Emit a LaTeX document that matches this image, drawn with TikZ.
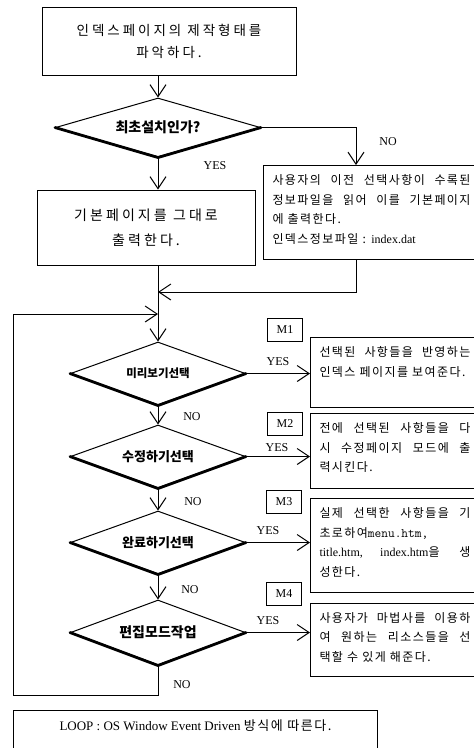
\documentclass[tikz,border=0pt]{standalone}
\usepackage{fontspec}
\setmainfont{Liberation Serif}
\newfontfamily\kr[LetterSpace=12]{Noto Sans CJK KR}
\newfontfamily\krwide[LetterSpace=22]{Noto Sans CJK KR}
\newfontfamily\krbig{Noto Sans CJK KR}
\usetikzlibrary{arrows.meta,shapes.geometric}

\begin{document}
\begin{tikzpicture}[x=1pt, y=-1pt, line width=1pt,
    >={Straight Barb[length=12pt,width=16pt]},
    box/.style={draw, rectangle, inner sep=0pt, align=center,
      font=\krwide\fontsize{13.5}{22}\selectfont},
    memo/.style={draw, rectangle, anchor=north west, inner xsep=9pt, inner ysep=9pt,
      font=\kr\fontsize{12}{19.5}\selectfont},
    decision/.style={draw, diamond, shape aspect=2.8, inner sep=0pt,
      minimum width=175pt, minimum height=63pt,
      font=\krbig\bfseries\fontsize{13}{13}\selectfont},
    heavy/.style={line width=2.8pt, line cap=round, line join=round},
    mbox/.style={draw, rectangle, minimum width=35pt, minimum height=23pt,
      inner sep=0pt, font=\fontsize{12}{12}\selectfont},
    lbl/.style={inner sep=0pt, font=\fontsize{12}{12}\selectfont}]

    % page frame
    \useasboundingbox (0,0) rectangle (474,748);
    \clip (0,0) rectangle (474,748);

    % left column
    \node[box, minimum width=254pt, minimum height=68pt] (b0) at (169,41)
      {인덱스페이지의 제작형태를\\파악하다.};
    \node[decision, minimum width=205pt, minimum height=59pt, shape aspect=3.5,
      font=\krbig\bfseries\fontsize{14}{14}\selectfont] (d1) at (158,127.5) {최초설치인가?};
    \node[box, minimum width=218pt, minimum height=75pt,
      font=\krwide\fontsize{14}{25}\selectfont] (b1) at (146,227.5)
      {기본페이지를 그대로\\출력한다.};
    \node[decision, font=\krbig\bfseries\fontsize{11.5}{12}\selectfont] (d2) at (158,373.5) {미리보기선택};
    \node[decision] (d3) at (158,456.5) {수정하기선택};
    \node[decision] (d4) at (158,542.5) {완료하기선택};
    \node[decision, minimum height=65pt, font=\krbig\bfseries\fontsize{14}{14}\selectfont]
      (d5) at (158,632.5) {편집모드작업};

    % right column
    \node[memo] (r1) at (263,165) {\parbox[t][76pt][t]{198pt}{\sloppy
      사용자의 이전 선택사항이 수록된\linebreak
      정보파일을 읽어 이를 기본페이지\linebreak
      에 출력한다.\\인덱스정보파일 : {\rmfamily index.dat}}};
    \node[memo] (s1) at (310,337) {\parbox[t][52pt][t]{151pt}{\sloppy
      선택된 사항들을 반영하는\linebreak 인덱스 페이지를 보여준다.}};
    \node[memo] (s2) at (310,413) {\parbox[t][57pt][t]{151pt}{\sloppy
      전에 선택된 사항들을 다\linebreak 시 수정페이지 모드에 출\linebreak 력시킨다.}};
    \node[memo] (s3) at (310,498) {\parbox[t][76pt][t]{151pt}{\sloppy
      실제 선택한 사항들을 기\linebreak 초로하여{\ttfamily\fontsize{13}{19.5}\selectfont menu.htm,}\linebreak
      {\rmfamily title.htm, index.htm}을 생\linebreak 성한다.}};
    \node[memo] (s4) at (310,603) {\parbox[t][55pt][t]{151pt}{\sloppy
      사용자가 마법사를 이용하\linebreak 여 원하는 리소스들을 선\linebreak 택할 수 있게 해준다.}};

    % module tags
    \node[mbox] (mk1) at (285,330) {M1};
    \node[mbox] (mk2) at (285,424) {M2};
    \node[mbox] (mk3) at (284,502) {M3};
    \node[mbox] (mk4) at (284,594) {M4};

    % branch labels
    \node[lbl] (y1) at (215,166) {YES};
    \node[lbl] (n1) at (388,142) {NO};
    \node[lbl] (y2) at (278,362) {YES};
    \node[lbl] (n2) at (192,417) {NO};
    \node[lbl] (y3) at (277,448) {YES};
    \node[lbl] (n3) at (193,502) {NO};
    \node[lbl] (y4) at (268,531) {YES};
    \node[lbl] (n4) at (190,590) {NO};
    \node[lbl] (y5) at (268,621) {YES};
    \node[lbl] (n5) at (182,685) {NO};

    % loop note
    \node[draw, anchor=north west, inner xsep=0pt, inner ysep=9pt,
      font=\fontsize{13}{13}\selectfont] (lp) at (13,710)
      {\parbox[t][45pt][t]{364pt}{\centering LOOP : OS Window Event Driven {\kr 방식에 따른다.}}};

    % joints
    \coordinate (r1in) at (356,165);
    \coordinate (r1out) at (356,259);
    \coordinate (m1) at (158,292);
    \coordinate (m2) at (158,314);
    \coordinate (lc) at (13,695);

    % flow
    \draw[->] (b0.south -| d1.north) -- (d1.north);
    \draw[->] (d1.south) -- (d1.south |- b1.north);
    \draw[->] (d1.east) -| (r1in);
    \draw[->] (r1out) |- (m1);
    \draw[->] (b1.south -| d2.north) -- (d2.north);
    \draw[->] (d2.south) -- (d3.north);
    \draw[->] (d3.south) -- (d4.north);
    \draw[->] (d4.south) -- (d5.north);
    \draw[->] (d5.south) |- (lc) |- (m2);

    % yes branches
    \draw[->] (d2.east) -- (d2.east -| s1.west);
    \draw[->] (d3.east) -- (d3.east -| s2.west);
    \draw[->] (d4.east) -- (d4.east -| s3.west);
    \draw[->] (d5.east) -- (d5.east -| s4.west);

    % heavy lower edges
    \foreach \dn in {d1,d2,d3,d4,d5}
      \draw[heavy] (\dn.west) -- (\dn.south) -- (\dn.east);
\end{tikzpicture}
\end{document}
